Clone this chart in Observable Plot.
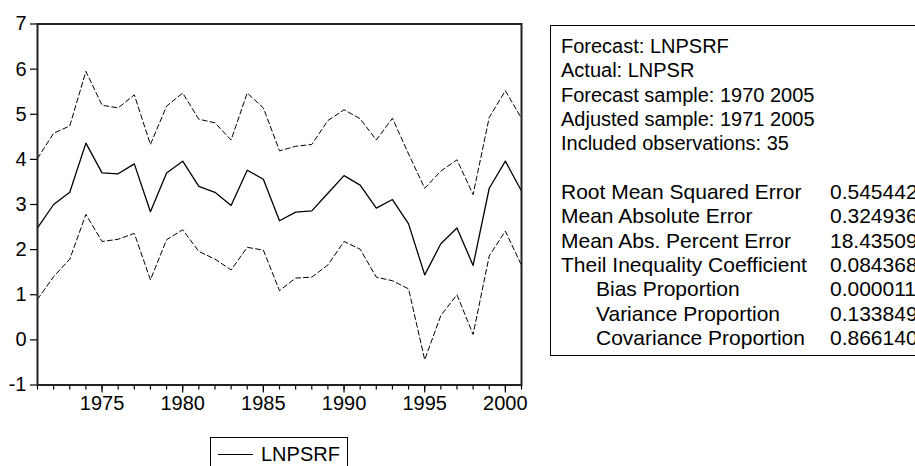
<!DOCTYPE html>
<html>
<head>
<meta charset="utf-8">
<script src="https://cdn.jsdelivr.net/npm/d3@7"></script>
<script src="https://cdn.jsdelivr.net/npm/@observablehq/plot@0.6"></script>
<style>
  html, body { margin: 0; padding: 0; background: #fff; }
  #wrap { position: relative; width: 915px; height: 466px; overflow: hidden; background: #fff;
          font-family: "Liberation Sans", Arial, sans-serif; color: #000; }
  #chart { position: absolute; left: 0; top: 0; }
  #stats { position: absolute; left: 550px; top: 25px; width: 420px; height: 331px;
           border: 1px solid #000; box-sizing: border-box; font-size: 20px; }
  #stats .row { position: absolute; left: 10px; white-space: nowrap; line-height: 24px; }
  #stats .row.stat { font-size: 21px; }
  #stats .val { position: absolute; left: 279px; white-space: nowrap; line-height: 24px; font-size: 21px; }
  #legend { position: absolute; left: 210px; top: 437px; width: 138px; height: 40px;
            border: 1px solid #000; box-sizing: border-box; font-size: 20px; }
  #legend .sample { position: absolute; left: 7px; top: 16px; width: 35px; border-top: 1px solid #000; }
  #legend .lab { position: absolute; left: 50px; top: 6px; line-height: 20px; white-space: nowrap; }
</style>
</head>
<body>
<div id="wrap">
  <div id="chart"></div>
  <div id="stats"></div>
  <div id="legend"><div class="sample"></div><div class="lab"></div></div>
</div>
<script>
// ---- data ----
const years = [1971,1972,1973,1974,1975,1976,1977,1978,1979,1980,1981,1982,1983,1984,1985,1986,
               1987,1988,1989,1990,1991,1992,1993,1994,1995,1996,1997,1998,1999,2000,2001];
const forecast = [2.48,3.00,3.27,4.36,3.70,3.68,3.90,2.84,3.70,3.96,3.40,3.27,2.98,3.76,3.56,2.64,
                  2.83,2.86,3.25,3.64,3.43,2.92,3.11,2.57,1.44,2.13,2.48,1.65,3.36,3.96,3.30];
const upper = [4.02,4.58,4.74,5.95,5.20,5.14,5.43,4.33,5.18,5.47,4.89,4.81,4.43,5.47,5.14,4.19,
               4.29,4.33,4.86,5.10,4.90,4.43,4.91,4.12,3.36,3.74,3.99,3.22,4.93,5.52,4.91];
const lower = [0.90,1.40,1.79,2.78,2.18,2.23,2.36,1.33,2.22,2.44,1.96,1.79,1.55,2.05,1.99,1.09,
               1.37,1.39,1.66,2.18,2.01,1.39,1.31,1.13,-0.44,0.54,1.00,0.12,1.86,2.41,1.65];
const yTicks = [-1,0,1,2,3,4,5,6,7];
const xLabelYears = [1975,1980,1985,1990,1995,2000];
const legendLabel = "LNPSRF";

const headerLines = ["Forecast: LNPSRF", "Actual: LNPSR", "Forecast sample: 1970 2005",
                     "Adjusted sample: 1971 2005", "Included observations: 35"];
const statLabels = ["Root Mean Squared Error", "Mean Absolute Error", "Mean Abs. Percent Error",
                    "Theil Inequality Coefficient", "Bias Proportion", "Variance Proportion",
                    "Covariance Proportion"];
const statIndent = [false,false,false,false,true,true,true];
const statValues = ["0.545442", "0.324936", "18.43509", "0.084368", "0.000011", "0.133849", "0.866140"];

// ---- build table ----
const data = years.map((y, i) => ({year: y, forecast: forecast[i], upper: upper[i], lower: lower[i]}));

const chart = Plot.plot({
  width: 915,
  height: 466,
  marginLeft: 37,
  marginRight: 394,
  marginTop: 23.5,
  marginBottom: 81.5,
  style: {fontFamily: "'Liberation Sans', Arial, sans-serif", fontSize: "20px", color: "#000", background: "transparent"},
  x: {domain: [1971, 2001]},
  y: {domain: [-1, 7]},
  marks: [
    Plot.axisY({ticks: yTicks, tickSize: 7, tickPadding: 4, tickFormat: d => String(d), label: null, stroke: "#000", strokeWidth: 1.2}),
    Plot.axisX({ticks: years, tickSize: 5, tickFormat: () => "", label: null, stroke: "#000", strokeWidth: 1.2}),
    Plot.axisX({ticks: xLabelYears, tickSize: 8, tickPadding: 3, tickFormat: d => String(d), label: null, stroke: "#000", strokeWidth: 1.2}),
    Plot.line(data, {x: "year", y: "upper", stroke: "#000", strokeWidth: 1, strokeDasharray: "5,3"}),
    Plot.line(data, {x: "year", y: "lower", stroke: "#000", strokeWidth: 1, strokeDasharray: "5,3"}),
    Plot.line(data, {x: "year", y: "forecast", stroke: "#000", strokeWidth: 1.3}),
    Plot.frame({stroke: "#222", strokeWidth: 2})
  ]
});
document.getElementById("chart").appendChild(chart);

// ---- stats box ----
const stats = document.getElementById("stats");
const firstTop = 8;      // px inside box
const step = 24.35;
headerLines.forEach((t, i) => {
  const d = document.createElement("div");
  d.className = "row";
  d.style.top = (firstTop + i * step) + "px";
  d.textContent = t;
  stats.appendChild(d);
});
statLabels.forEach((t, j) => {
  const i = j + 6;
  const d = document.createElement("div");
  d.className = "row stat";
  d.style.top = (firstTop + i * step - 0.3) + "px";
  if (statIndent[j]) d.style.left = "45px";
  d.textContent = t;
  stats.appendChild(d);
  const v = document.createElement("div");
  v.className = "val";
  v.style.top = (firstTop + i * step - 0.3) + "px";
  v.textContent = statValues[j];
  stats.appendChild(v);
});

// ---- legend ----
document.querySelector("#legend .lab").textContent = legendLabel;
</script>
</body>
</html>
